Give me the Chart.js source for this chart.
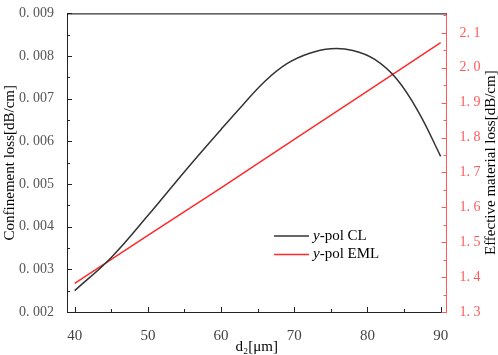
<!DOCTYPE html>
<html>
<head>
<meta charset="utf-8">
<script src="https://cdn.jsdelivr.net/npm/chart.js@4/dist/chart.umd.min.js"></script>
<style>
  body { margin: 0; background: #fff; }
  #wrap { width: 498px; height: 355px; }
</style>
</head>
<body>
<div id="wrap"><canvas id="lossChart"></canvas></div>
<script>
// d2 in um
const d2 = [40, 45, 50, 55, 60, 63, 66, 69, 72, 75, 78, 81, 84, 87, 90];
// y-pol confinement loss, dB/cm
const clValues = [0.00250, 0.00328, 0.00426, 0.00529, 0.00628, 0.00686, 0.00741, 0.00782,
                  0.00806, 0.00817, 0.00813, 0.00792, 0.00746, 0.00668, 0.00565];
// y-pol effective material loss, dB/cm
const emlD2 = [40, 50, 60, 70, 80, 90];
const emlValues = [1.382, 1.520, 1.656, 1.795, 1.933, 2.072];

const xTicks = [40, 50, 60, 70, 80, 90];
const xMinor = [45, 55, 65, 75, 85];
const leftTicks = [0.002, 0.003, 0.004, 0.005, 0.006, 0.007, 0.008, 0.009];
const leftMinor = [0.0025, 0.0035, 0.0045, 0.0055, 0.0065, 0.0075, 0.0085];
const rightTicks = [1.3, 1.4, 1.5, 1.6, 1.7, 1.8, 1.9, 2.0, 2.1];
const rightMinor = [1.35, 1.45, 1.55, 1.65, 1.75, 1.85, 1.95, 2.05, 2.15];

const FONT = "'Liberation Serif', 'DejaVu Serif', serif";
const RED = '#ff2a2a';
const RED_AXIS = '#ff5a5a';

// inward tick marks, frame top, right title and legend
const decor = {
    id: 'decor',
    afterDraw(chart) {
        const c = chart.ctx;
        const a = chart.chartArea;
        const sx = chart.scales.x, sy = chart.scales.y, sy1 = chart.scales.y1;
        c.save();
        c.lineWidth = 1;
        // top frame
        c.strokeStyle = '#000';
        c.beginPath();
        c.moveTo(a.left, a.top + 0.5);
        c.lineTo(a.right, a.top + 0.5);
        c.stroke();
        // bottom ticks
        c.strokeStyle = '#222';
        xTicks.concat(xMinor).forEach(v => {
            const len = xTicks.includes(v) ? 5 : 3;
            const px = Math.round(sx.getPixelForValue(v)) + 0.5;
            c.beginPath();
            c.moveTo(px, a.bottom);
            c.lineTo(px, a.bottom - len);
            c.stroke();
        });
        // left ticks
        leftTicks.concat(leftMinor).forEach(v => {
            const len = leftTicks.includes(v) ? 5 : 3;
            const py = Math.round(sy.getPixelForValue(v)) + 0.5;
            c.beginPath();
            c.moveTo(a.left, py);
            c.lineTo(a.left + len, py);
            c.stroke();
        });
        // right ticks
        c.strokeStyle = RED_AXIS;
        rightTicks.concat(rightMinor).forEach(v => {
            const len = rightTicks.includes(v) ? 5 : 3;
            const py = Math.round(sy1.getPixelForValue(v)) + 0.5;
            c.beginPath();
            c.moveTo(a.right, py);
            c.lineTo(a.right - len, py);
            c.stroke();
        });
        // right axis title, reading upward
        c.fillStyle = '#000';
        c.font = '15px ' + FONT;
        c.textAlign = 'center';
        c.textBaseline = 'middle';
        c.translate(491, (a.top + a.bottom) / 2);
        c.rotate(-Math.PI / 2);
        c.fillText('Effective material loss[dB/cm]', 0, 0);
        c.restore();

        // legend
        c.save();
        const items = [
            { color: '#333', label: '-pol CL', y: 236 },
            { color: RED, label: '-pol EML', y: 254.5 }
        ];
        items.forEach(it => {
            c.strokeStyle = it.color;
            c.lineWidth = 1.5;
            c.beginPath();
            c.moveTo(274, it.y);
            c.lineTo(309, it.y);
            c.stroke();
            c.fillStyle = '#000';
            c.textBaseline = 'middle';
            c.textAlign = 'left';
            c.font = 'italic 15px ' + FONT;
            c.fillText('y', 313, it.y);
            const w = c.measureText('y').width;
            c.font = '15px ' + FONT;
            c.fillText(it.label, 313 + w, it.y);
        });
        c.restore();
    }
};

new Chart(document.getElementById('lossChart'), {
    type: 'line',
    data: {
        datasets: [{
            label: 'y-pol CL',
            data: d2.map((x, i) => ({ x: x, y: clValues[i] })),
            borderColor: '#333',
            borderWidth: 1.5,
            pointRadius: 0,
            tension: 0.4,
            yAxisID: 'y'
        }, {
            label: 'y-pol EML',
            data: emlD2.map((x, i) => ({ x: x, y: emlValues[i] })),
            borderColor: RED,
            borderWidth: 1.5,
            pointRadius: 0,
            tension: 0,
            yAxisID: 'y1'
        }]
    },
    options: {
        responsive: true,
        maintainAspectRatio: false,
        animation: false,
        layout: { padding: { top: 6, left: 0, right: 0, bottom: 0 } },
        scales: {
            x: {
                type: 'linear',
                min: 38.95,
                max: 90.8,
                afterBuildTicks: s => { s.ticks = xTicks.map(v => ({ value: v })); },
                afterFit: s => { s.height = 43; },
                grid: { display: false },
                border: { display: true, color: '#222', width: 1 },
                ticks: {
                    color: '#444',
                    padding: 7,
                    font: { family: FONT, size: 15 },
                    callback: v => String(v)
                },
                title: {
                    display: true,
                    text: 'd₂[μm]',
                    color: '#000',
                    font: { family: FONT, size: 15, lineHeight: 1 },
                    padding: { top: 0, bottom: 0 }
                }
            },
            y: {
                position: 'left',
                min: 0.002,
                max: 0.009,
                afterBuildTicks: s => { s.ticks = leftTicks.map(v => ({ value: v })); },
                afterFit: s => { s.width = 67; },
                grid: { display: false },
                border: { display: true, color: '#222', width: 1 },
                ticks: {
                    color: '#555',
                    padding: 5,
                    font: { family: FONT, size: 14 },
                    callback: v => v.toFixed(3).replace('.', '. ')
                },
                title: {
                    display: true,
                    text: 'Confinement loss[dB/cm]',
                    color: '#000',
                    font: { family: FONT, size: 15, lineHeight: 1.2 },
                    padding: { top: 1, bottom: 0 }
                }
            },
            y1: {
                position: 'right',
                min: 1.3,
                max: 2.156,
                afterBuildTicks: s => { s.ticks = rightTicks.map(v => ({ value: v })); },
                afterFit: s => { s.width = 51.5; },
                grid: { display: false },
                border: { display: true, color: RED_AXIS, width: 1 },
                ticks: {
                    color: RED_AXIS,
                    padding: 5,
                    font: { family: FONT, size: 14 },
                    callback: v => v.toFixed(1).replace('.', '. ')
                }
            }
        },
        plugins: {
            legend: { display: false },
            tooltip: { enabled: false }
        }
    },
    plugins: [decor]
});
</script>
</body>
</html>
